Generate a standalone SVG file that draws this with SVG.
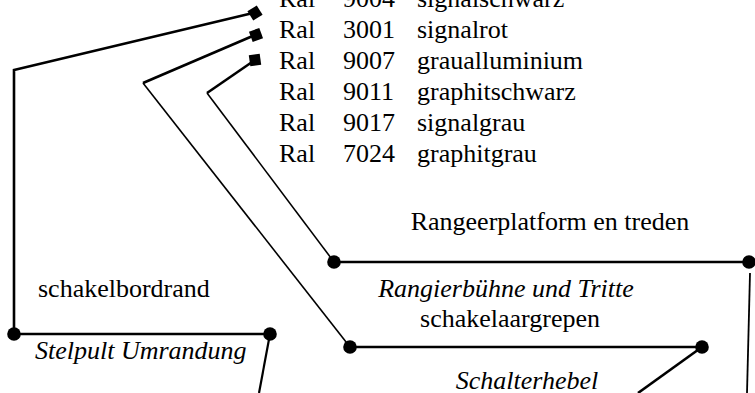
<svg xmlns="http://www.w3.org/2000/svg" width="755" height="393" viewBox="0 0 755 393">
<style>
text{font-family:"Liberation Serif","Times New Roman",serif;font-size:26px;fill:#000}
.it{font-style:italic}
.mid{text-anchor:middle}
.thick{fill:none;stroke:#000;stroke-width:2.6;stroke-linejoin:miter}
.thin{fill:none;stroke:#000;stroke-width:1.6}
</style>
<defs>
<rect id="sq" x="-5.5" y="-5.5" width="11" height="11" fill="#000"/>
<circle id="dt" r="6.8" fill="#000"/>
</defs>
<g id="legend">
<text x="279" y="7">Ral</text><text x="343" y="7">9004</text><text x="417" y="7">signalschwarz</text>
<text x="279" y="38">Ral</text><text x="343" y="38">3001</text><text x="417" y="38">signalrot</text>
<text x="279" y="69">Ral</text><text x="343" y="69">9007</text><text x="417" y="69">graualluminium</text>
<text x="279" y="100">Ral</text><text x="343" y="100">9011</text><text x="417" y="100">graphitschwarz</text>
<text x="279" y="131">Ral</text><text x="343" y="131">9017</text><text x="417" y="131">signalgrau</text>
<text x="279" y="162">Ral</text><text x="343" y="162">7024</text><text x="417" y="162">graphitgrau</text>
</g>
<g id="label-stelpult">
<text x="38" y="297">schakelbordrand</text>
<text x="35" y="359" class="it">Stelpult Umrandung</text>
</g>
<g id="label-rangier">
<text x="550" y="230" class="mid">Rangeerplatform en treden</text>
<text x="506" y="297" class="mid it">Rangierbühne und Tritte</text>
</g>
<g id="label-schalter">
<text x="510" y="327" class="mid">schakelaargrepen</text>
<text x="527" y="389" class="mid it">Schalterhebel</text>
</g>
<g id="connectors">
<polyline class="thick" points="253,13 14,70 14,334 270,334"/>
<line class="thick" x1="270" y1="334" x2="259" y2="393" style="stroke-width:2.2"/>
<polyline class="thick" points="255,35 143,83"/>
<polyline class="thin" points="143,83 350,347"/>
<line class="thick" x1="350" y1="347" x2="702" y2="347"/>
<line class="thick" x1="702" y1="347" x2="638" y2="393"/>
<polyline class="thick" points="255,60 207,93"/>
<polyline class="thin" points="207,93 334,262"/>
<line class="thick" x1="334" y1="262" x2="749" y2="262"/>
<line class="thin" x1="750" y1="273" x2="747" y2="393" style="stroke-width:1.8"/>
<use href="#sq" transform="translate(255,13) rotate(-32)"/>
<use href="#sq" transform="translate(256,35) rotate(-20)"/>
<use href="#sq" transform="translate(255,60) rotate(-8)"/>
<use href="#dt" x="14" y="334"/>
<use href="#dt" x="270" y="334"/>
<use href="#dt" x="350" y="347"/>
<use href="#dt" x="702" y="347"/>
<use href="#dt" x="334" y="262"/>
<use href="#dt" x="749" y="262"/>
</g>
</svg>
